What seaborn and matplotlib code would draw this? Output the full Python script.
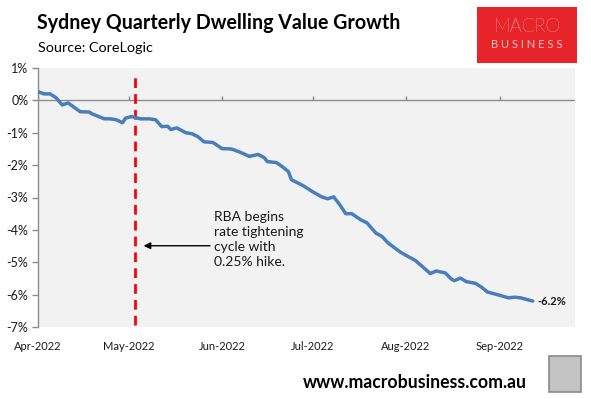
import matplotlib
matplotlib.use("Agg")
import matplotlib.pyplot as plt
from matplotlib.patches import Rectangle
import seaborn as sns
import pandas as pd

# ---------------- data ----------------
dates = [
    "2022-04-01", "2022-04-03", "2022-04-05", "2022-04-07", "2022-04-09", "2022-04-11",
    "2022-04-15", "2022-04-18", "2022-04-19", "2022-04-23", "2022-04-25", "2022-04-27",
    "2022-04-29", "2022-04-30", "2022-05-02", "2022-05-05", "2022-05-08", "2022-05-10",
    "2022-05-12", "2022-05-14", "2022-05-15", "2022-05-17", "2022-05-20", "2022-05-22",
    "2022-05-24", "2022-05-26", "2022-05-29", "2022-06-01", "2022-06-04", "2022-06-05",
    "2022-06-08", "2022-06-10", "2022-06-13", "2022-06-15", "2022-06-16", "2022-06-19",
    "2022-06-21", "2022-06-23", "2022-06-24", "2022-06-28", "2022-07-01", "2022-07-04",
    "2022-07-06", "2022-07-08", "2022-07-10", "2022-07-12", "2022-07-14", "2022-07-17",
    "2022-07-19", "2022-07-22", "2022-07-24", "2022-07-26", "2022-07-30", "2022-08-02",
    "2022-08-04", "2022-08-07", "2022-08-09", "2022-08-11", "2022-08-14", "2022-08-16",
    "2022-08-17", "2022-08-19", "2022-08-21", "2022-08-24", "2022-08-26", "2022-08-28",
    "2022-09-01", "2022-09-04", "2022-09-06", "2022-09-08", "2022-09-12",
]
growth = [
    0.27, 0.20, 0.20, 0.08, -0.14, -0.08,
    -0.35, -0.36, -0.42, -0.57, -0.57, -0.60,
    -0.69, -0.55, -0.50, -0.57, -0.57, -0.60,
    -0.81, -0.80, -0.90, -0.85, -1.00, -1.03,
    -1.12, -1.28, -1.30, -1.49, -1.50, -1.53,
    -1.64, -1.73, -1.67, -1.77, -1.89, -1.92,
    -2.05, -2.20, -2.45, -2.64, -2.82, -2.98,
    -3.04, -2.98, -3.22, -3.50, -3.50, -3.69,
    -3.78, -4.10, -4.20, -4.40, -4.68, -4.84,
    -4.94, -5.18, -5.35, -5.27, -5.33, -5.52,
    -5.57, -5.49, -5.60, -5.65, -5.77, -5.92,
    -6.02, -6.10, -6.08, -6.10, -6.20,
]
month_starts = ["2022-04-01", "2022-05-01", "2022-06-01", "2022-07-01", "2022-08-01", "2022-09-01"]
month_labels = ["Apr-2022", "May-2022", "Jun-2022", "Jul-2022", "Aug-2022", "Sep-2022"]
y_ticks = [1, 0, -1, -2, -3, -4, -5, -6, -7]
y_labels = ["1%", "0%", "-1%", "-2%", "-3%", "-4%", "-5%", "-6%", "-7%"]
hike_date = "2022-05-03"
end_label = "-6.2%"
title = "Sydney Quarterly Dwelling Value Growth"
subtitle = "Source: CoreLogic"
annotation = "RBA begins\nrate tightening\ncycle with\n0.25% hike."
footer = "www.macrobusiness.com.au"

# ---------------- style ----------------
sns.set_style("white")
plt.rcParams["font.family"] = ["Lato", "DejaVu Sans"]

W, H = 591, 399
fig = plt.figure(figsize=(W / 100, H / 100), dpi=100)
fig.patch.set_facecolor("white")

left, right, top, bottom = 38, 575, 68, 327
ax = fig.add_axes([left / W, 1 - bottom / H, (right - left) / W, (bottom - top) / H])
ax.set_facecolor("#F2F2F2")

df = pd.DataFrame({"date": pd.to_datetime(dates), "growth": growth})
sns.lineplot(data=df, x="date", y="growth", ax=ax, color="#4A7EBB", linewidth=2.5, zorder=4)

ax.set_xlim(pd.Timestamp("2022-04-01"), pd.Timestamp("2022-09-26"))
ax.set_ylim(-7, 1)

# zero line with month tick marks
ax.axhline(0, color="#8C8C8C", linewidth=1.0, zorder=2)
ms = pd.to_datetime(month_starts)
ax.vlines(ms, 0, 0.12, colors="#8C8C8C", linewidth=1.0, zorder=2)

# axes styling
for s in ["top", "right", "bottom"]:
    ax.spines[s].set_visible(False)
ax.spines["left"].set_color("#8C8C8C")
ax.spines["left"].set_linewidth(1.0)
ax.set_yticks(y_ticks)
ax.set_yticklabels(y_labels, fontsize=9, color="#1a1a1a")
ax.tick_params(axis="y", direction="out", length=4, width=1, color="#8C8C8C", pad=3, left=True)
ax.set_xticks(ms)
ax.set_xticklabels(month_labels, fontsize=8, color="#1a1a1a")
ax.tick_params(axis="x", length=0, pad=10)
ax.set_xlabel("")
ax.set_ylabel("")
ax.grid(False)

# RBA hike vertical dashed line
hd = pd.Timestamp(hike_date)
ax.vlines(hd, -6.93, 0.88, colors="#FF0000", linestyles=(0, (3.5, 2.2)), linewidth=2.0, zorder=3)

# arrow and annotation
ax.annotate("", xy=(pd.Timestamp("2022-05-06"), -4.49), xytext=(pd.Timestamp("2022-05-28"), -4.49),
            arrowprops=dict(arrowstyle="-|>", color="black", lw=1.0, mutation_scale=10,
                            shrinkA=0, shrinkB=0), zorder=5)
ax.text(pd.Timestamp("2022-05-29 12:00"), -3.42, annotation, ha="left", va="top",
        fontsize=10, linespacing=1.3, color="#1a1a1a")

# end label
ax.text(df["date"].iloc[-1] + pd.Timedelta(days=1.5), growth[-1], end_label, ha="left", va="center",
        fontsize=8, fontweight="bold", color="#1a1a1a")

# ---------------- header ----------------
fig.text(37 / W, 1 - 23 / H, title, ha="left", va="center", fontsize=14.1, fontweight="bold", color="black")
fig.text(38 / W, 1 - 48 / H, subtitle, ha="left", va="center", fontsize=10.4, color="black")

# logo
fig.patches.append(Rectangle((477 / W, 1 - 63 / H), 100 / W, 56 / H, transform=fig.transFigure,
                             facecolor="#E8242B", edgecolor="none", zorder=1))
fig.text(527 / W, 1 - 27 / H, "MACRO", ha="center", va="center", fontsize=13.5, color="white",
         fontweight="light", zorder=2)
fig.text(527 / W, 1 - 45 / H, "B U S I N E S S", ha="center", va="center", fontsize=8, color="#F5C5C5",
         zorder=2)

# footer
fig.text(415 / W, 1 - 383 / H, footer, ha="center", va="center", fontsize=12.7, fontweight="bold",
         color="black")
fig.patches.append(Rectangle((549 / W, 1 - 392 / H), 32 / W, 36 / H, transform=fig.transFigure,
                             facecolor="#C4C4C4", edgecolor="#8A8A8A", linewidth=1.2, zorder=1))

fig.savefig("out.png", dpi=100, facecolor="white")
